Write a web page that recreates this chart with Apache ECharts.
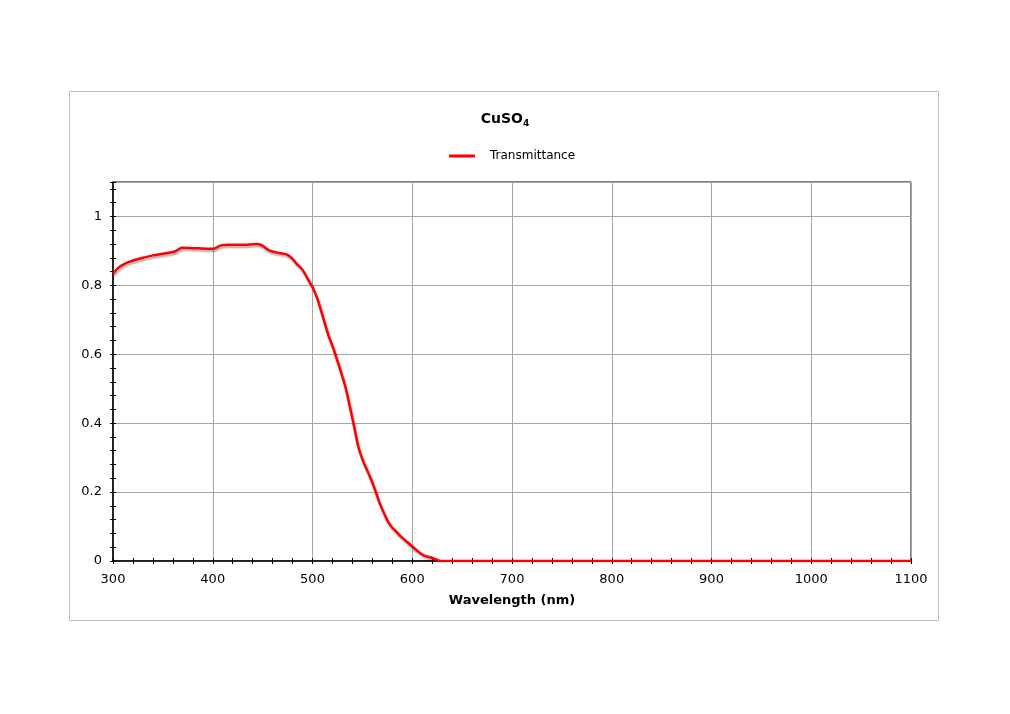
<!DOCTYPE html>
<html><head><meta charset="utf-8">
<script src="https://cdn.jsdelivr.net/npm/echarts@6/dist/echarts.min.js"></script>
<style>html,body{margin:0;padding:0;background:#fff}#c{width:1010px;height:714px}</style>
</head><body><div id="c"></div>
<script>
const wavelengths = [300,305,312,320,330,340,350,360,365,369,380,390,400,404,408,415,425,435,444,448,451,455,459,465,474,479,484,490,497,500,505,511,516,521,529,533,536,541,546,551,555,559,564,567,571,575,579,584,589,595,600,605,611,619,625,629,700,800,900,1000,1100];
const transmittance = [0.834,0.85,0.863,0.872,0.88,0.887,0.892,0.897,0.903,0.909,0.908,0.907,0.906,0.91,0.916,0.918,0.918,0.918,0.92,0.918,0.913,0.904,0.899,0.895,0.89,0.88,0.863,0.845,0.81,0.795,0.76,0.703,0.655,0.616,0.544,0.505,0.467,0.40,0.331,0.288,0.262,0.235,0.196,0.17,0.143,0.118,0.10,0.085,0.07,0.055,0.042,0.03,0.017,0.01,0.003,0,0,0,0,0,0];
const seriesName = 'Transmittance';
const xTitle = 'Wavelength (nm)';
const F = 'DejaVu Sans';

const chart = echarts.init(document.getElementById('c'), null, {renderer:'canvas'});
const pts = wavelengths.map((w,i)=>[w, transmittance[i]]);
const tickAxis = (extra) => Object.assign({type:'value', axisLabel:{show:false}, splitLine:{show:false}, axisLine:{show:false}}, extra);
chart.setOption({
  animation:false,
  backgroundColor:'#fff',
  title:{text:'{a|CuSO}{b|4}', left:'center', top:106,
    textStyle:{rich:{a:{fontFamily:F,fontWeight:'bold',fontSize:14,color:'#000'},
                     b:{fontFamily:F,fontWeight:'bold',fontSize:9,color:'#000',padding:[8,0,0,0]}}}},
  legend:{top:145, left:444, itemWidth:26, itemHeight:3, itemGap:10,
    icon:'rect', textStyle:{fontFamily:F,fontSize:12,color:'#000', padding:[0,0,0,10]},
    data:[{name:seriesName, itemStyle:{color:'#ff0000'}}]},
  graphic:[{type:'rect', shape:{x:69.5,y:91.5,width:869,height:529}, style:{fill:'none',stroke:'#bfbfbf',lineWidth:1}, z:-1}],
  grid:{left:113, right:99, top:182, bottom:153, show:true, borderColor:'#000', borderWidth:1},
  xAxis:[
    {type:'value', min:300, max:1100, interval:100, name:xTitle, nameLocation:'middle', nameGap:33,
     nameTextStyle:{fontFamily:F,fontWeight:'bold',fontSize:13,color:'#000'},
     axisLine:{lineStyle:{color:'#000',width:1.5}}, axisTick:{show:false},
     axisLabel:{fontFamily:F,fontSize:13,color:'#000',margin:12, formatter:v=>String(v)},
     splitLine:{lineStyle:{color:'#a6a6a6',width:1}}},
    tickAxis({min:300,max:1100,interval:20, axisTick:{inside:true,length:3,lineStyle:{color:'#000'}}}),
    tickAxis({min:300,max:1100,interval:20, axisTick:{inside:false,length:3,lineStyle:{color:'#000'}}})
  ],
  yAxis:[
    {type:'value', min:0, max:1.1, interval:0.2,
     axisLine:{show:true,lineStyle:{color:'#000',width:1.5}}, axisTick:{show:false},
     axisLabel:{fontFamily:F,fontSize:13,color:'#000',margin:11,showMaxLabel:false,
       formatter:v=> (Math.abs(v-1.1)<1e-9?'':String(+v.toFixed(2)))},
     splitLine:{lineStyle:{color:'#a6a6a6',width:1}}},
    tickAxis({min:0,max:1.1,interval:0.04, position:'left', axisTick:{inside:true,length:3,lineStyle:{color:'#000'}}}),
    tickAxis({min:0,max:1.1,interval:0.04, position:'left', axisTick:{inside:false,length:3,lineStyle:{color:'#000'}}})
  ],
  series:[{name:seriesName, type:'line', data:pts, showSymbol:false, smooth:0.3,
    lineStyle:{color:'#ff0000', width:2.5, shadowColor:'rgba(0,0,0,0.35)', shadowBlur:2, shadowOffsetX:1, shadowOffsetY:2},
    itemStyle:{color:'#ff0000'}}]
});
</script></body></html>
